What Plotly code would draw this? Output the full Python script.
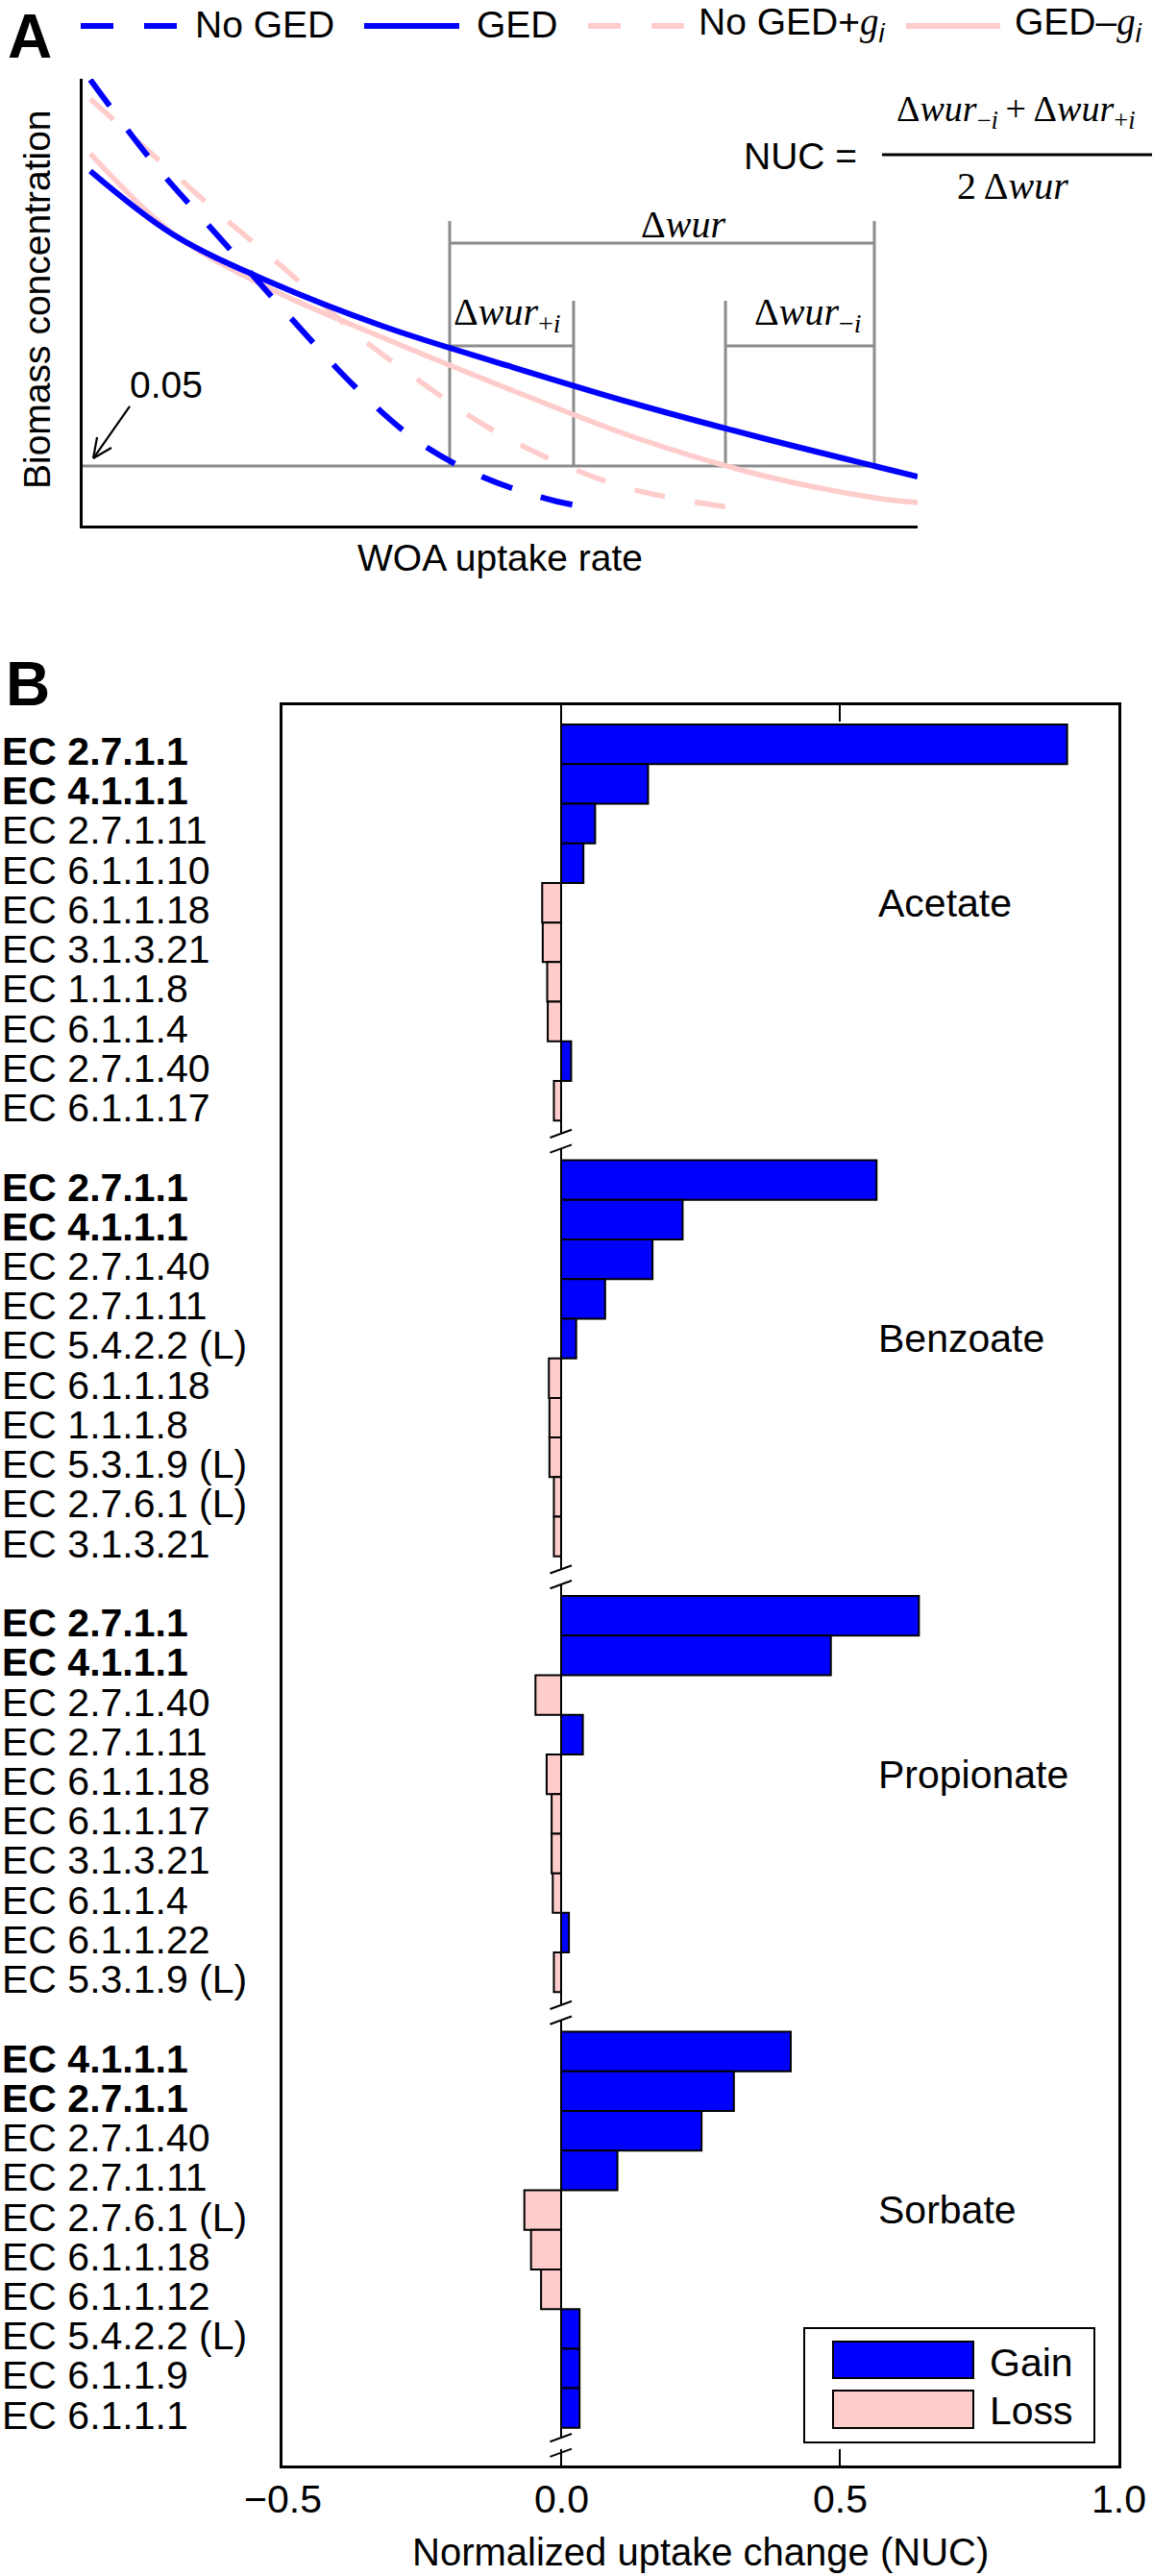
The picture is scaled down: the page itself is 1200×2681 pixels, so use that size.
import plotly.graph_objects as go

W, H = 1200, 2681
BLUE = "#0000FF"
PINK = "#FFCCCC"
GRAY = "#8C8C8C"
SANS = "Liberation Sans, Arial, Helvetica, sans-serif"
SERIF = "Liberation Serif, Times New Roman, serif"
FS = 41      # panel B labels
FSA = 39     # panel A texts

# ---------------- Panel A : schematic curves (arbitrary units)
woa_no_ged = [0.92, 8.52, 16.57, 24.63, 32.68, 39.59, 45.34, 51.09, 56.85, 60.64]
bio_no_ged = [99.8, 81.08, 64.09, 47.10, 30.97, 19.57, 13.12, 8.60, 5.38, 4.09]
woa_ged = [0.92, 10.82, 22.32, 36.13, 51.09, 66.05, 81.01, 94.82, 100.0]
bio_ged = [79.35, 65.16, 54.62, 44.52, 35.70, 27.31, 19.78, 13.33, 10.97]
woa_no_ged_plus = [0.92, 8.52, 16.57, 24.63, 32.68, 40.74, 48.79, 56.85, 64.90, 72.96, 79.29]
bio_no_ged_plus = [95.48, 82.80, 69.46, 56.77, 43.01, 31.83, 21.72, 14.19, 8.60, 5.38, 3.66]
woa_ged_minus = [0.92, 10.82, 22.32, 36.13, 51.09, 66.05, 81.01, 94.82, 100.0]
bio_ged_minus = [83.23, 65.38, 53.12, 41.94, 30.54, 19.78, 11.40, 6.24, 5.16]
threshold = 13.33          # biomass level 0.05
cross_x = [43.96, 58.80, 76.99, 94.82]   # No GED, No GED+g, GED-g, GED crossing the 0.05 level

# ---------------- Panel B : NUC values
groups = ["Acetate", "Benzoate", "Propionate", "Sorbate"]
acetate_labels = ["EC 2.7.1.1", "EC 4.1.1.1", "EC 2.7.1.11", "EC 6.1.1.10", "EC 6.1.1.18",
                  "EC 3.1.3.21", "EC 1.1.1.8", "EC 6.1.1.4", "EC 2.7.1.40", "EC 6.1.1.17"]
acetate_nuc = [0.908, 0.156, 0.061, 0.040, -0.034, -0.033, -0.025, -0.024, 0.018, -0.013]
benzoate_labels = ["EC 2.7.1.1", "EC 4.1.1.1", "EC 2.7.1.40", "EC 2.7.1.11", "EC 5.4.2.2 (L)",
                   "EC 6.1.1.18", "EC 1.1.1.8", "EC 5.3.1.9 (L)", "EC 2.7.6.1 (L)", "EC 3.1.3.21"]
benzoate_nuc = [0.566, 0.218, 0.164, 0.079, 0.027, -0.022, -0.021, -0.021, -0.013, -0.013]
propionate_labels = ["EC 2.7.1.1", "EC 4.1.1.1", "EC 2.7.1.40", "EC 2.7.1.11", "EC 6.1.1.18",
                     "EC 6.1.1.17", "EC 3.1.3.21", "EC 6.1.1.4", "EC 6.1.1.22", "EC 5.3.1.9 (L)"]
propionate_nuc = [0.642, 0.484, -0.046, 0.039, -0.026, -0.017, -0.017, -0.015, 0.014, -0.013]
sorbate_labels = ["EC 4.1.1.1", "EC 2.7.1.1", "EC 2.7.1.40", "EC 2.7.1.11", "EC 2.7.6.1 (L)",
                  "EC 6.1.1.18", "EC 6.1.1.12", "EC 5.4.2.2 (L)", "EC 6.1.1.9", "EC 6.1.1.1"]
sorbate_nuc = [0.412, 0.310, 0.252, 0.101, -0.066, -0.054, -0.036, 0.033, 0.033, 0.033]
bold_labels = ["EC 2.7.1.1", "EC 4.1.1.1"]
x_ticks = [-0.5, 0.0, 0.5, 1.0]
x_tick_text = ["\u22120.5", "0.0", "0.5", "1.0"]
legend_names = ["Gain", "Loss"]

ROWS = 11  # 10 bars + 1 blank row per group
Y_TOP, Y_BOT = -0.985, 43.45


def px(x):
    return x / W


def py(y):
    return 1 - y / H


fig = go.Figure()
shapes = []
ann = []


def text(x, y, s, xref="paper", yref="paper", xa="center", ya="middle", size=FS, family=SANS, angle=0):
    ann.append(dict(xref=xref, yref=yref, x=x, y=y, text=s, xanchor=xa, yanchor=ya, showarrow=False,
                    textangle=angle, font=dict(family=family, size=size, color="black")))


# ---------------- Panel A traces
for xs, ys, col, dash, lw in [
    (woa_no_ged_plus, bio_no_ged_plus, PINK, "32px,32px", 5.5),
    (woa_ged_minus, bio_ged_minus, PINK, "solid", 5.5),
    (woa_no_ged, bio_no_ged, BLUE, "34px,31px", 6),
    (woa_ged, bio_ged, BLUE, "solid", 6),
]:
    fig.add_trace(go.Scatter(x=xs, y=ys, mode="lines", xaxis="x2", yaxis="y2",
                             line=dict(color=col, width=lw, dash=dash, shape="spline", smoothing=1.0),
                             showlegend=False, hoverinfo="skip"))


def segA(x0, y0, x1, y1, color=GRAY, width=3):
    shapes.append(dict(type="line", xref="x2", yref="y2", x0=x0, y0=y0, x1=x1, y1=y1,
                       line=dict(color=color, width=width), layer="below"))


# threshold line and brackets
segA(0, threshold, cross_x[3], threshold)
segA(cross_x[0], threshold, cross_x[0], 68.17)
segA(cross_x[3], threshold, cross_x[3], 68.17)
segA(cross_x[0], 63.23, cross_x[3], 63.23)
segA(cross_x[1], threshold, cross_x[1], 50.32)
segA(cross_x[0], 40.22, cross_x[1], 40.22)
segA(cross_x[2], threshold, cross_x[2], 50.32)
segA(cross_x[2], 40.22, cross_x[3], 40.22)
# arrow to 0.05
segA(5.64, 26.67, 1.27, 15.05, "black", 2.2)
segA(1.27, 15.05, 3.45, 17.42, "black", 2.2)
segA(1.27, 15.05, 1.73, 19.78, "black", 2.2)

text(10.0, 31.4, "0.05", "x2", "y2", size=FSA)
text(71.9, 67.5, "\u0394<i>wur</i>", "x2", "y2", size=40, family=SERIF)
text(44.2, 41.5, "\u0394<i>wur</i><sub>+<i>i</i></sub>", "x2", "y2", xa="left", ya="bottom", size=40, family=SERIF)
text(80.2, 41.5, "\u0394<i>wur</i><sub>\u2212<i>i</i></sub>", "x2", "y2", xa="left", ya="bottom", size=40, family=SERIF)

# formula
text(px(833), py(163), "NUC =", size=FSA)
text(px(1057), py(142),
     "\u0394<i>wur</i><sub>\u2212<i>i</i></sub>\u2009+\u2009\u0394<i>wur</i><sub>+<i>i</i></sub>",
     ya="bottom", size=38, family=SERIF)
shapes.append(dict(type="line", xref="paper", yref="paper", x0=px(918), x1=px(1199), y0=py(161), y1=py(161),
                   line=dict(color="black", width=3)))
text(px(1054), py(193), "2 \u0394<i>wur</i>", size=40, family=SERIF)

# panel A legend
leg = [(84, 184, BLUE, "34px,32px", "No GED", 201),
       (379, 478, BLUE, "solid", "GED", 494),
       (612, 712, PINK, "34px,32px",
        "No GED+<span style='font-family:Liberation Serif'><i>g</i></span><sub><i>i</i></sub>", 725),
       (943, 1041, PINK, "solid",
        "GED\u2013<span style='font-family:Liberation Serif'><i>g</i></span><sub><i>i</i></sub>", 1054)]
for x0, x1, col, dash, txt, tx in leg:
    shapes.append(dict(type="line", xref="paper", yref="paper", x0=px(x0), x1=px(x1), y0=py(27), y1=py(27),
                       line=dict(color=col, width=6, dash=dash)))
    text(px(tx), py(25), txt, xa="left", size=FSA)

text(px(38), py(312), "Biomass concentration", angle=-90, size=FSA)
text(px(520), py(581), "WOA uptake rate", size=FSA)
text(px(31), py(0), "<b>A</b>", ya="top", size=64)
text(px(29), py(674), "<b>B</b>", ya="top", size=64)

# ---------------- Panel B traces
all_groups = [(acetate_labels, acetate_nuc), (benzoate_labels, benzoate_nuc),
              (propionate_labels, propionate_nuc), (sorbate_labels, sorbate_nuc)]
for g, (labels, vals) in enumerate(all_groups):
    rows = [g * ROWS + k for k in range(len(vals))]
    fig.add_trace(go.Bar(x=vals, y=rows, orientation="h", width=1, xaxis="x", yaxis="y",
                         marker=dict(color=[BLUE if v > 0 else PINK for v in vals],
                                     line=dict(color="black", width=2)),
                         showlegend=False, hoverinfo="skip"))
    for r, lab in zip(rows, labels):
        txt = f"<b>{lab}</b>" if lab in bold_labels else lab
        text(px(0), r + 0.18, txt, yref="y", xa="left")
    text(0.566, g * ROWS + 4, groups[g], xref="x", yref="y", xa="left")

# zero line with axis-break marks
breaks = [g * ROWS + 10 for g in range(3)] + [42.92]
prev = Y_TOP
for c in breaks:
    s1, s2 = c - 0.17, c + 0.21
    shapes.append(dict(type="line", xref="x", yref="y", x0=0, x1=0, y0=prev, y1=s1,
                       line=dict(color="black", width=2)))
    for s in (s1, s2):
        shapes.append(dict(type="line", xref="x", yref="y", x0=-0.02, x1=0.019, y0=s + 0.1, y1=s - 0.1,
                           line=dict(color="black", width=2)))
    prev = s2
shapes.append(dict(type="line", xref="x", yref="y", x0=0, x1=0, y0=prev, y1=Y_BOT,
                   line=dict(color="black", width=2)))

# x tick labels (placed under the axis through the x scale)
for v, t in zip(x_ticks, x_tick_text):
    text(v, py(2601), t, xref="x")

# panel B legend
shapes.append(dict(type="rect", xref="paper", yref="paper", x0=px(837), x1=px(1139), y0=py(2542), y1=py(2423),
                   line=dict(color="black", width=2), fillcolor="white"))
for (y0, y1, col, name, ty) in [(2437, 2475, BLUE, legend_names[0], 2459),
                                (2488, 2527, PINK, legend_names[1], 2509)]:
    shapes.append(dict(type="rect", xref="paper", yref="paper", x0=px(867), x1=px(1013), y0=py(y1), y1=py(y0),
                       line=dict(color="black", width=2), fillcolor=col))
    text(px(1028), py(ty), name, xa="left")

text(px(729), py(2656), "Normalized uptake change (NUC)", size=40)

fig.update_layout(
    width=W, height=H, margin=dict(l=0, r=0, t=0, b=0, pad=0, autoexpand=False),
    paper_bgcolor="white", plot_bgcolor="white",
    font=dict(family=SANS, color="black", size=FS),
    showlegend=False, shapes=shapes, annotations=ann,
    xaxis=dict(domain=[px(294), px(1164)], range=[-0.5, 1.0], anchor="y", automargin=False,
               tickvals=x_ticks, showticklabels=False, ticks="inside", ticklen=17, tickwidth=2,
               tickcolor="black", mirror="ticks", showline=True, linecolor="black", linewidth=2.5,
               showgrid=False, zeroline=False),
    yaxis=dict(domain=[py(2566), py(734)], range=[Y_BOT, Y_TOP], anchor="x", automargin=False,
               showticklabels=False, ticks="", showline=True, mirror=True, linecolor="black",
               linewidth=2.5, showgrid=False, zeroline=False),
    xaxis2=dict(domain=[px(86), px(955)], range=[0, 100], anchor="y2", automargin=False,
                showticklabels=False, ticks="",
                showline=True, linecolor="black", linewidth=3, showgrid=False, zeroline=False),
    yaxis2=dict(domain=[py(547), py(82)], range=[0, 100], anchor="x2", automargin=False,
                showticklabels=False, ticks="",
                showline=True, linecolor="black", linewidth=3, showgrid=False, zeroline=False),
)

fig.write_html("out.html", config={"displayModeBar": False},
               post_script="document.body.style.margin='0';document.body.style.overflow='hidden';")
